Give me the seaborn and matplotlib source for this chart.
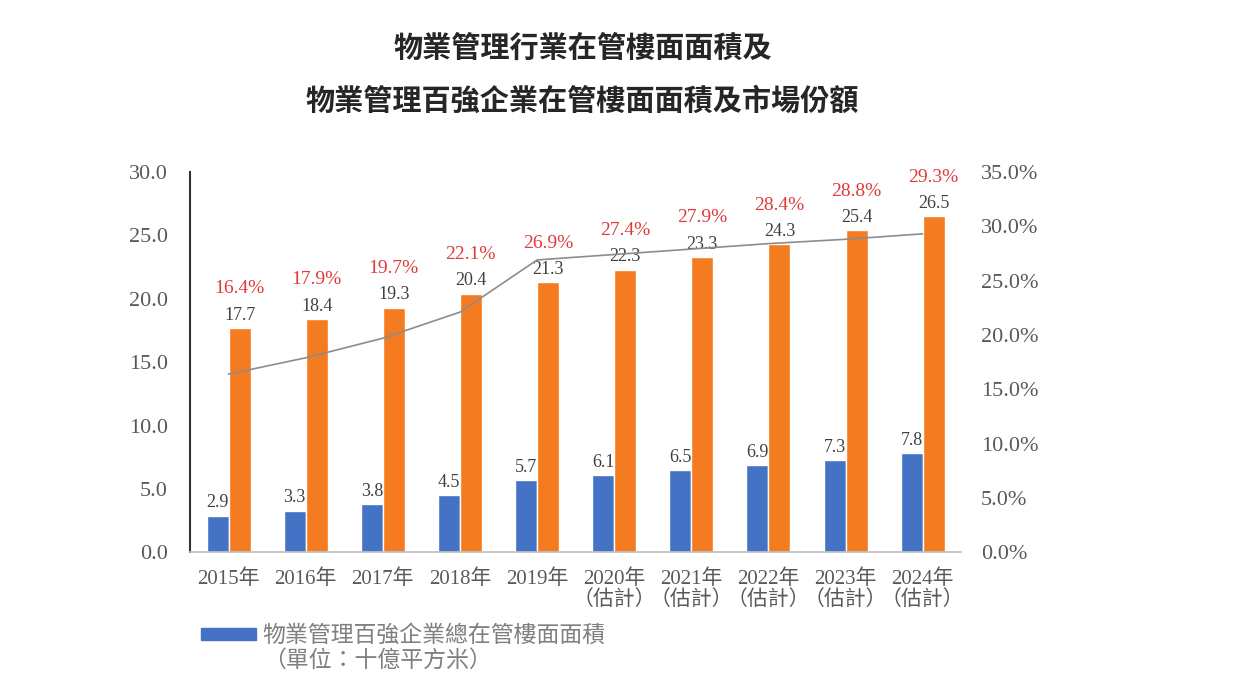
import numpy as np
import pandas as pd
import seaborn as sns
import matplotlib.pyplot as plt
from matplotlib.patches import Patch
from matplotlib.ticker import FuncFormatter

# data
years = ["2015年", "2016年", "2017年", "2018年", "2019年",
         "2020年\n（估計）", "2021年\n（估計）", "2022年\n（估計）", "2023年\n（估計）", "2024年\n（估計）"]
top100_area = [2.9, 3.3, 3.8, 4.5, 5.7, 6.1, 6.5, 6.9, 7.3, 7.8]
industry_area = [17.7, 18.4, 19.3, 20.4, 21.3, 22.3, 23.3, 24.3, 25.4, 26.5]
market_share = [16.4, 17.9, 19.7, 22.1, 26.9, 27.4, 27.9, 28.4, 28.8, 29.3]

sns.set_theme(style="white")
plt.rcParams['font.family'] = ['Liberation Serif', 'Noto Sans CJK TC', 'DejaVu Sans']

blue = "#4472C4"
orange = "#F47B20"
grey = "#595959"

df = pd.DataFrame({
    "year": years * 2,
    "value": top100_area + industry_area,
    "series": ["top100"] * len(years) + ["industry"] * len(years),
})

fig = plt.figure(figsize=(12.34, 6.82), dpi=100)
ax = fig.add_axes([0.154, 0.19, 0.625, 0.558])

sns.barplot(data=df, x="year", y="value", hue="series",
            palette={"top100": blue, "industry": orange},
            width=0.57, gap=0.0, legend=False, ax=ax, saturation=1)

ax.set_ylim(0, 30)
ax.set_yticks(np.arange(0, 30.1, 5))
ax.yaxis.set_major_formatter(FuncFormatter(lambda v, p: f"{v:.1f}"))
ax.set_xlabel("")
ax.set_ylabel("")
ax.tick_params(axis="y", labelsize=16, labelcolor=grey, pad=16, length=0)
ax.tick_params(axis="x", labelsize=15, labelcolor=grey, pad=12, length=0)
for lab in ax.get_xticklabels():
    lab.set_linespacing(1.1)
ax.set_xlim(-0.5, 9.5)

for s in ["top", "right"]:
    ax.spines[s].set_visible(False)
ax.spines["left"].set_color("#333333")
ax.spines["left"].set_linewidth(1.5)
ax.spines["bottom"].set_color("#BFBFBF")

# value labels
for cont in ax.containers:
    ax.bar_label(cont, fmt="%.1f", padding=3, fontsize=13, color="#404040")

# market share line on right axis
ax2 = ax.twinx()
sns.lineplot(x=np.arange(len(years)), y=market_share, ax=ax2, color="#8C8C8C", linewidth=1.2)
ax2.set_ylim(0, 35)
ax2.set_yticks(np.arange(0, 35.1, 5))
ax2.yaxis.set_major_formatter(FuncFormatter(lambda v, p: f"{v:.1f}%"))
ax2.tick_params(axis="y", labelsize=16, labelcolor=grey, pad=14, length=0)
ax2.set_ylabel("")
for s in ["top", "right", "left", "bottom"]:
    ax2.spines[s].set_visible(False)

# red percentage labels above the orange bars
for i, (v, s) in enumerate(zip(industry_area, market_share)):
    ax.annotate(f"{s:.1f}%", xy=(i + 0.14, v), xytext=(0, 22), textcoords="offset points",
                ha="center", va="bottom", fontsize=14, color="#E03A3A")

fig.text(0.472, 0.93, "物業管理行業在管樓面面積及", ha="center", va="center",
         fontsize=21, fontweight="bold", color="#262626", family=["Noto Sans CJK TC"])
fig.text(0.472, 0.853, "物業管理百強企業在管樓面面積及市場份額", ha="center", va="center",
         fontsize=21, fontweight="bold", color="#262626", family=["Noto Sans CJK TC"])

# legend: patch next to the first line, unit on a second line
leg = fig.legend(handles=[Patch(color=blue)],
                 labels=["物業管理百強企業總在管樓面面積"],
                 loc="upper left", bbox_to_anchor=(0.146, 0.115), frameon=False,
                 fontsize=16.5, handlelength=2.4, handleheight=0.45, handletextpad=0.3)
for t in leg.get_texts():
    t.set_color("#7F7F7F")
    t.set_family(["Noto Sans CJK TC"])
fig.text(0.213, 0.032, "（單位：十億平方米）", ha="left", va="center",
         fontsize=16.5, color="#7F7F7F", family=["Noto Sans CJK TC"])

fig.savefig("out.png", dpi=100)
